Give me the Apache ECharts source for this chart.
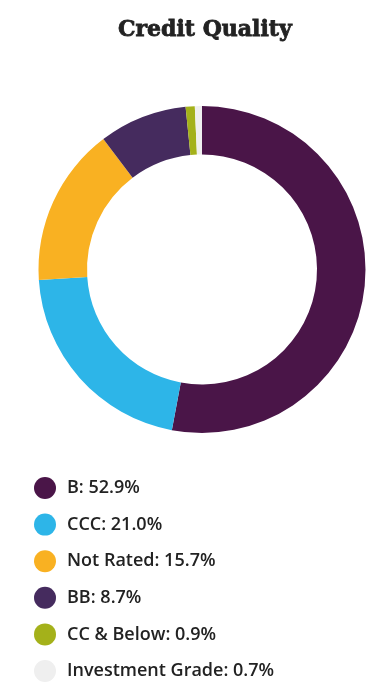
<!DOCTYPE html>
<html><head><meta charset="utf-8">
<script src="https://cdn.jsdelivr.net/npm/echarts@6/dist/echarts.min.js"></script>
<style>html,body{margin:0;padding:0;background:#fff}#c{width:390px;height:700px}</style>
</head><body><div id="c"></div>
<script>
const categories = ["B", "CCC", "Not Rated", "BB", "CC & Below", "Investment Grade"];
const values = [52.9, 21.0, 15.7, 8.7, 0.9, 0.7];
const colors = ["#4a1548", "#2db5e8", "#f9b122", "#452b5e", "#a4b11a", "#efefef"];
const title = "Credit Quality";

const chart = echarts.init(document.getElementById('c'));
chart.setOption({
  animation: false,
  title: {
    text: title, left: 113, top: 14,
    textStyle: { fontFamily: 'DejaVu Serif', fontWeight: 'bold', fontSize: 22, color: '#222',
      textBorderColor: '#222', textBorderWidth: 0.8 }
  },
  legend: {
    orient: 'vertical', left: 29, top: 472, height: 228,
    icon: 'circle', itemWidth: 22, itemHeight: 22, itemGap: 14.6,
    selectedMode: false,
    formatter: function (name) {
      const i = categories.indexOf(name);
      return name + ': ' + values[i].toFixed(1) + '%';
    },
    textStyle: { fontFamily: 'Open Sans', fontWeight: 600, fontSize: 18, color: '#222', padding: [0, 0, 0, 6] }
  },
  series: [{
    type: 'pie',
    center: [202, 269.5],
    radius: [115, 163.5],
    startAngle: 90,
    clockwise: true,
    label: { show: false },
    labelLine: { show: false },
    emphasis: { disabled: true },
    data: categories.map((n, i) => ({ name: n, value: values[i], itemStyle: { color: colors[i] } }))
  }]
});
</script></body></html>
